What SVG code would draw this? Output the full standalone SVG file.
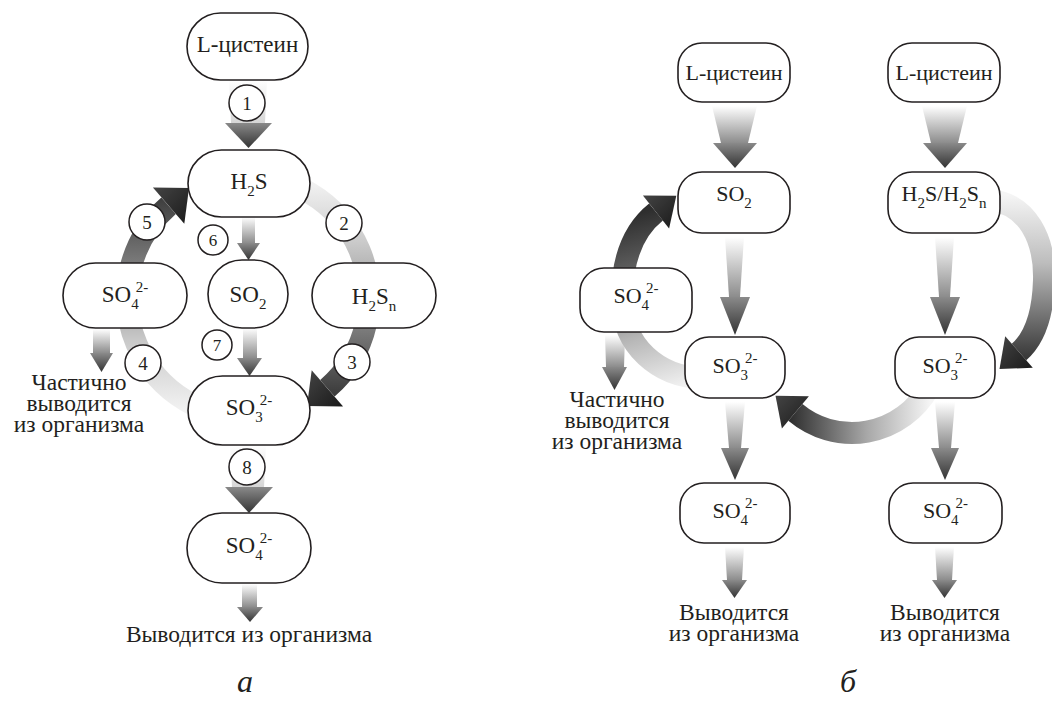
<svg xmlns="http://www.w3.org/2000/svg" width="1052" height="701" viewBox="0 0 1052 701">
  <style>
    .node { fill: #ffffff; stroke: #231f20; stroke-width: 1.6; }
    .lbl { font-family: "Liberation Serif", "Times New Roman", "DejaVu Serif", serif; font-size: 23px; fill: #231f20; text-anchor: middle; }
    .lbl-b { font-family: "Liberation Serif", "Times New Roman", "DejaVu Serif", serif; font-size: 22px; fill: #231f20; text-anchor: middle; }
    .txt { font-family: "Liberation Serif", "Times New Roman", "DejaVu Serif", serif; font-size: 23.5px; fill: #231f20; text-anchor: middle; }
    .sb { font-size: 15px; }
    .num { font-family: "Liberation Serif", "Times New Roman", "DejaVu Serif", serif; font-size: 19px; fill: #231f20; text-anchor: middle; }
    .num-s { font-size: 17px; }
    .step { fill: #ffffff; stroke: #231f20; stroke-width: 1.5; }
    .cap { font-family: "Liberation Serif", "Times New Roman", "DejaVu Serif", serif; font-size: 32px; font-style: italic; fill: #231f20; text-anchor: middle; }
    .shaft { fill: url(#gShaft); }
    .faint { fill: url(#gFaint); }
    .head { fill: url(#gHead); }
    .band { fill: none; stroke-width: 22; }
  </style>
  <defs>
    <linearGradient id="gShaft" x1="0" y1="0" x2="0" y2="1">
      <stop offset="0" stop-color="#ffffff"/>
      <stop offset="1" stop-color="#8c8c8c"/>
    </linearGradient>
    <linearGradient id="gFaint" x1="0" y1="0" x2="0" y2="1">
      <stop offset="0" stop-color="#ffffff"/>
      <stop offset="1" stop-color="#d6d6d6"/>
    </linearGradient>
    <linearGradient id="gHead" x1="0" y1="0" x2="0" y2="1">
      <stop offset="0" stop-color="#8a8a8a"/>
      <stop offset="1" stop-color="#333333"/>
    </linearGradient>
    <linearGradient id="gRingR" gradientUnits="userSpaceOnUse" x1="0" y1="170" x2="0" y2="400">
      <stop offset="0" stop-color="#fafafa"/>
      <stop offset="0.3" stop-color="#cdcdcd"/>
      <stop offset="0.65" stop-color="#858585"/>
      <stop offset="1" stop-color="#363636"/>
    </linearGradient>
    <linearGradient id="gRingL" gradientUnits="userSpaceOnUse" x1="0" y1="420" x2="0" y2="190">
      <stop offset="0" stop-color="#f8f8f8"/>
      <stop offset="0.35" stop-color="#c8c8c8"/>
      <stop offset="0.7" stop-color="#777777"/>
      <stop offset="1" stop-color="#363636"/>
    </linearGradient>
    <linearGradient id="gDark" x1="0" y1="0" x2="1" y2="1">
      <stop offset="0" stop-color="#444444"/>
      <stop offset="1" stop-color="#1a1a1a"/>
    </linearGradient>
    <linearGradient id="gArcA" gradientUnits="userSpaceOnUse" x1="700" y1="385" x2="650" y2="210">
      <stop offset="0" stop-color="#f5f5f5"/>
      <stop offset="0.35" stop-color="#b5b5b5"/>
      <stop offset="0.65" stop-color="#6a6a6a"/>
      <stop offset="1" stop-color="#2e2e2e"/>
    </linearGradient>
    <linearGradient id="gArcB" gradientUnits="userSpaceOnUse" x1="0" y1="195" x2="0" y2="365">
      <stop offset="0" stop-color="#f5f5f5"/>
      <stop offset="0.4" stop-color="#bdbdbd"/>
      <stop offset="1" stop-color="#2e2e2e"/>
    </linearGradient>
    <linearGradient id="gArcC" gradientUnits="userSpaceOnUse" x1="930" y1="0" x2="790" y2="0">
      <stop offset="0" stop-color="#f5f5f5"/>
      <stop offset="0.45" stop-color="#a8a8a8"/>
      <stop offset="1" stop-color="#2e2e2e"/>
    </linearGradient>
  </defs>
  <rect x="0" y="0" width="1052" height="701" fill="#ffffff"/>

  <!-- ===== connectors ===== -->
  <g id="connectors">
    <!-- scheme a: straight arrows -->
    <polygon class="faint" points="229,80 267,80 265,123 231,123"/>
    <polygon class="head" points="225,123 272,123 248.5,148"/>
    <rect class="shaft" x="242" y="217" width="13" height="26"/>
    <polygon class="head" points="237,243 260,243 248.5,260"/>
    <rect class="shaft" x="243" y="328" width="14" height="30"/>
    <polygon class="head" points="237,358 262,358 249.5,376"/>
    <polygon class="faint" points="230,445 266,445 264,487 232,487"/>
    <polygon class="head" points="225,487 273,487 249,513"/>
    <rect class="shaft" x="242" y="584" width="15" height="23"/>
    <polygon class="head" points="237,607 263,607 250,622"/>
    <rect class="shaft" x="93" y="329" width="17" height="24"/>
    <polygon class="head" points="90,353 113,353 101.5,372"/>

    <!-- scheme a: ring, right half (H2S -> H2Sn -> SO3) -->
    <path class="band" stroke="url(#gRingR)" d="M 237.5 176.5 A 121 121 0 0 1 327.4 388.3"/>
    <polygon fill="url(#gDark)" points="343.1,406.4 311.7,370.2 307,406"/>
    <!-- scheme a: ring, left half (SO3 -> SO4 -> H2S) -->
    <path class="band" stroke="url(#gRingL)" d="M 258.5 417.5 A 121 121 0 0 1 168.6 205.7"/>
    <polygon fill="url(#gDark)" points="152.9,187.6 184.3,223.8 189,188"/>

    <!-- scheme b: straight arrows, left column -->
    <polygon class="shaft" points="712,106 757,106 748,143 721,143"/>
    <polygon class="head" points="713,143 757,143 735,168"/>
    <polygon class="shaft" points="725,237 744,237 740,297 729,297"/>
    <polygon class="head" points="720,297 750,297 735,335"/>
    <polygon class="shaft" points="725,402 745,402 741,448 729,448"/>
    <polygon class="head" points="721,448 749,448 735,480"/>
    <polygon class="shaft" points="725,547 744,547 742,580 727,580"/>
    <polygon class="head" points="722,580 747,580 734.5,598"/>
    <polygon class="shaft" points="605,335 625,335 624,367 606,367"/>
    <polygon class="head" points="602,367 627,367 614.5,390"/>
    <!-- scheme b: straight arrows, right column -->
    <polygon class="shaft" points="922,106 967,106 958,143 931,143"/>
    <polygon class="head" points="923,143 967,143 945,168"/>
    <polygon class="shaft" points="935,237 954,237 950,297 939,297"/>
    <polygon class="head" points="930,297 960,297 945,335"/>
    <polygon class="shaft" points="935,402 955,402 951,448 939,448"/>
    <polygon class="head" points="931,448 959,448 945,480"/>
    <polygon class="shaft" points="935,547 954,547 952,580 937,580"/>
    <polygon class="head" points="932,580 957,580 944.5,598"/>

    <!-- scheme b: curved arrows -->
    <path class="band" stroke-width="20" stroke="url(#gArcA)" d="M 700 378 C 660 376, 622 348, 622 298 C 622 255, 636 228, 656 212"/>
    <polygon fill="url(#gDark)" points="669.1,228.4 642.9,195.6 676.3,195.8"/>
    <path class="band" stroke-width="20" stroke="url(#gArcB)" d="M 990 200 C 1028 204, 1045 240, 1044 280 C 1043 315, 1035 338, 1019 352"/>
    <polygon fill="url(#gDark)" points="1032.8,367.8 1005.2,336.2 999.5,369"/>
    <path class="band" stroke-width="21" stroke="url(#gArcC)" d="M 928.2 389 A 88 88 0 0 1 795.4 412.4"/>
    <polygon fill="url(#gDark)" points="781.9,428.5 808.9,396.3 775.5,395.7"/>
  </g>

  <!-- ===== scheme a: nodes ===== -->
  <g id="a-cys">
    <rect class="node" x="187" y="13" width="121" height="67" rx="33.5"/>
    <text class="lbl" x="247.5" y="52">L-цистеин</text>
  </g>
  <g id="a-h2s">
    <rect class="node" x="188" y="150" width="122" height="67" rx="33.5"/>
    <text class="lbl" x="249" y="189">H<tspan class="sb" dy="7">2</tspan><tspan dy="-7">S</tspan></text>
  </g>
  <g id="a-so4-side">
    <rect class="node" x="63" y="263" width="124" height="65" rx="32.5"/>
    <text class="lbl" x="125" y="302">SO<tspan class="sb" dy="7">4</tspan><tspan class="sb" dx="-3" dy="-17">2-</tspan></text>
  </g>
  <g id="a-so2">
    <rect class="node" x="208" y="260" width="80" height="68" rx="34"/>
    <text class="lbl" x="248" y="302">SO<tspan class="sb" dy="7">2</tspan></text>
  </g>
  <g id="a-h2sn">
    <rect class="node" x="312" y="263" width="124" height="65" rx="32.5"/>
    <text class="lbl" x="374" y="304">H<tspan class="sb" dy="7">2</tspan><tspan dy="-7">S</tspan><tspan class="sb" dy="7">n</tspan></text>
  </g>
  <g id="a-so3">
    <rect class="node" x="188" y="376" width="122" height="69" rx="34.5"/>
    <text class="lbl" x="249" y="415">SO<tspan class="sb" dy="7">3</tspan><tspan class="sb" dx="-3" dy="-17">2-</tspan></text>
  </g>
  <g id="a-so4">
    <rect class="node" x="187" y="513" width="124" height="70" rx="35"/>
    <text class="lbl" x="249" y="553">SO<tspan class="sb" dy="7">4</tspan><tspan class="sb" dx="-3" dy="-17">2-</tspan></text>
  </g>
  <g id="a-out-partial">
    <text class="txt" x="79" y="390">Частично</text>
    <text class="txt" x="79" y="411">выводится</text>
    <text class="txt" x="79" y="432">из организма</text>
  </g>
  <g id="a-out">
    <text class="txt" x="249" y="642">Выводится из организма</text>
  </g>

  <!-- scheme a: numbered steps -->
  <g id="a-steps">
    <circle class="step" cx="247" cy="103" r="18"/><text class="num" x="247" y="110">1</text>
    <circle class="step" cx="344" cy="223" r="18"/><text class="num" x="344" y="230">2</text>
    <circle class="step" cx="352" cy="362" r="18"/><text class="num" x="352" y="369">3</text>
    <circle class="step" cx="143" cy="363" r="18"/><text class="num" x="143" y="370">4</text>
    <circle class="step" cx="147" cy="222" r="18"/><text class="num" x="147" y="229">5</text>
    <circle class="step" cx="213" cy="240" r="15"/><text class="num num-s" x="213" y="246">6</text>
    <circle class="step" cx="217" cy="345" r="15"/><text class="num num-s" x="217" y="351">7</text>
    <circle class="step" cx="247" cy="467" r="18"/><text class="num" x="247" y="474">8</text>
  </g>
  <text class="cap" x="245" y="692">а</text>

  <!-- ===== scheme b: nodes ===== -->
  <g id="b-cys-1">
    <rect class="node" x="678" y="43" width="112" height="59" rx="24"/>
    <text class="lbl-b" x="734" y="80">L-цистеин</text>
  </g>
  <g id="b-cys-2">
    <rect class="node" x="888" y="43" width="112" height="59" rx="24"/>
    <text class="lbl-b" x="944" y="80">L-цистеин</text>
  </g>
  <g id="b-so2">
    <rect class="node" x="678" y="172" width="112" height="61" rx="24"/>
    <text class="lbl-b" x="734" y="201">SO<tspan class="sb" dy="7">2</tspan></text>
  </g>
  <g id="b-h2s">
    <rect class="node" x="888" y="172" width="112" height="61" rx="24"/>
    <text class="lbl-b" x="944" y="201">H<tspan class="sb" dy="7">2</tspan><tspan dy="-7">S/H</tspan><tspan class="sb" dy="7">2</tspan><tspan dy="-7">S</tspan><tspan class="sb" dy="7">n</tspan></text>
  </g>
  <g id="b-so4-side">
    <rect class="node" x="580" y="268" width="112" height="64" rx="24"/>
    <text class="lbl-b" x="636" y="303">SO<tspan class="sb" dy="7">4</tspan><tspan class="sb" dx="-3" dy="-17">2-</tspan></text>
  </g>
  <g id="b-so3-1">
    <rect class="node" x="685" y="337" width="100" height="61" rx="24"/>
    <text class="lbl-b" x="735" y="373">SO<tspan class="sb" dy="7">3</tspan><tspan class="sb" dx="-3" dy="-17">2-</tspan></text>
  </g>
  <g id="b-so3-2">
    <rect class="node" x="895" y="337" width="100" height="61" rx="24"/>
    <text class="lbl-b" x="945" y="373">SO<tspan class="sb" dy="7">3</tspan><tspan class="sb" dx="-3" dy="-17">2-</tspan></text>
  </g>
  <g id="b-so4-1">
    <rect class="node" x="680" y="483" width="110" height="60" rx="24"/>
    <text class="lbl-b" x="735" y="518">SO<tspan class="sb" dy="7">4</tspan><tspan class="sb" dx="-3" dy="-17">2-</tspan></text>
  </g>
  <g id="b-so4-2">
    <rect class="node" x="889" y="483" width="113" height="60" rx="24"/>
    <text class="lbl-b" x="945.5" y="518">SO<tspan class="sb" dy="7">4</tspan><tspan class="sb" dx="-3" dy="-17">2-</tspan></text>
  </g>
  <g id="b-out-partial">
    <text class="txt" x="617" y="407">Частично</text>
    <text class="txt" x="617" y="428">выводится</text>
    <text class="txt" x="617" y="449">из организма</text>
  </g>
  <g id="b-out-1">
    <text class="txt" x="734" y="620">Выводится</text>
    <text class="txt" x="734" y="641">из организма</text>
  </g>
  <g id="b-out-2">
    <text class="txt" x="945" y="620">Выводится</text>
    <text class="txt" x="945" y="641">из организма</text>
  </g>
  <text class="cap" x="848" y="692">б</text>
</svg>
